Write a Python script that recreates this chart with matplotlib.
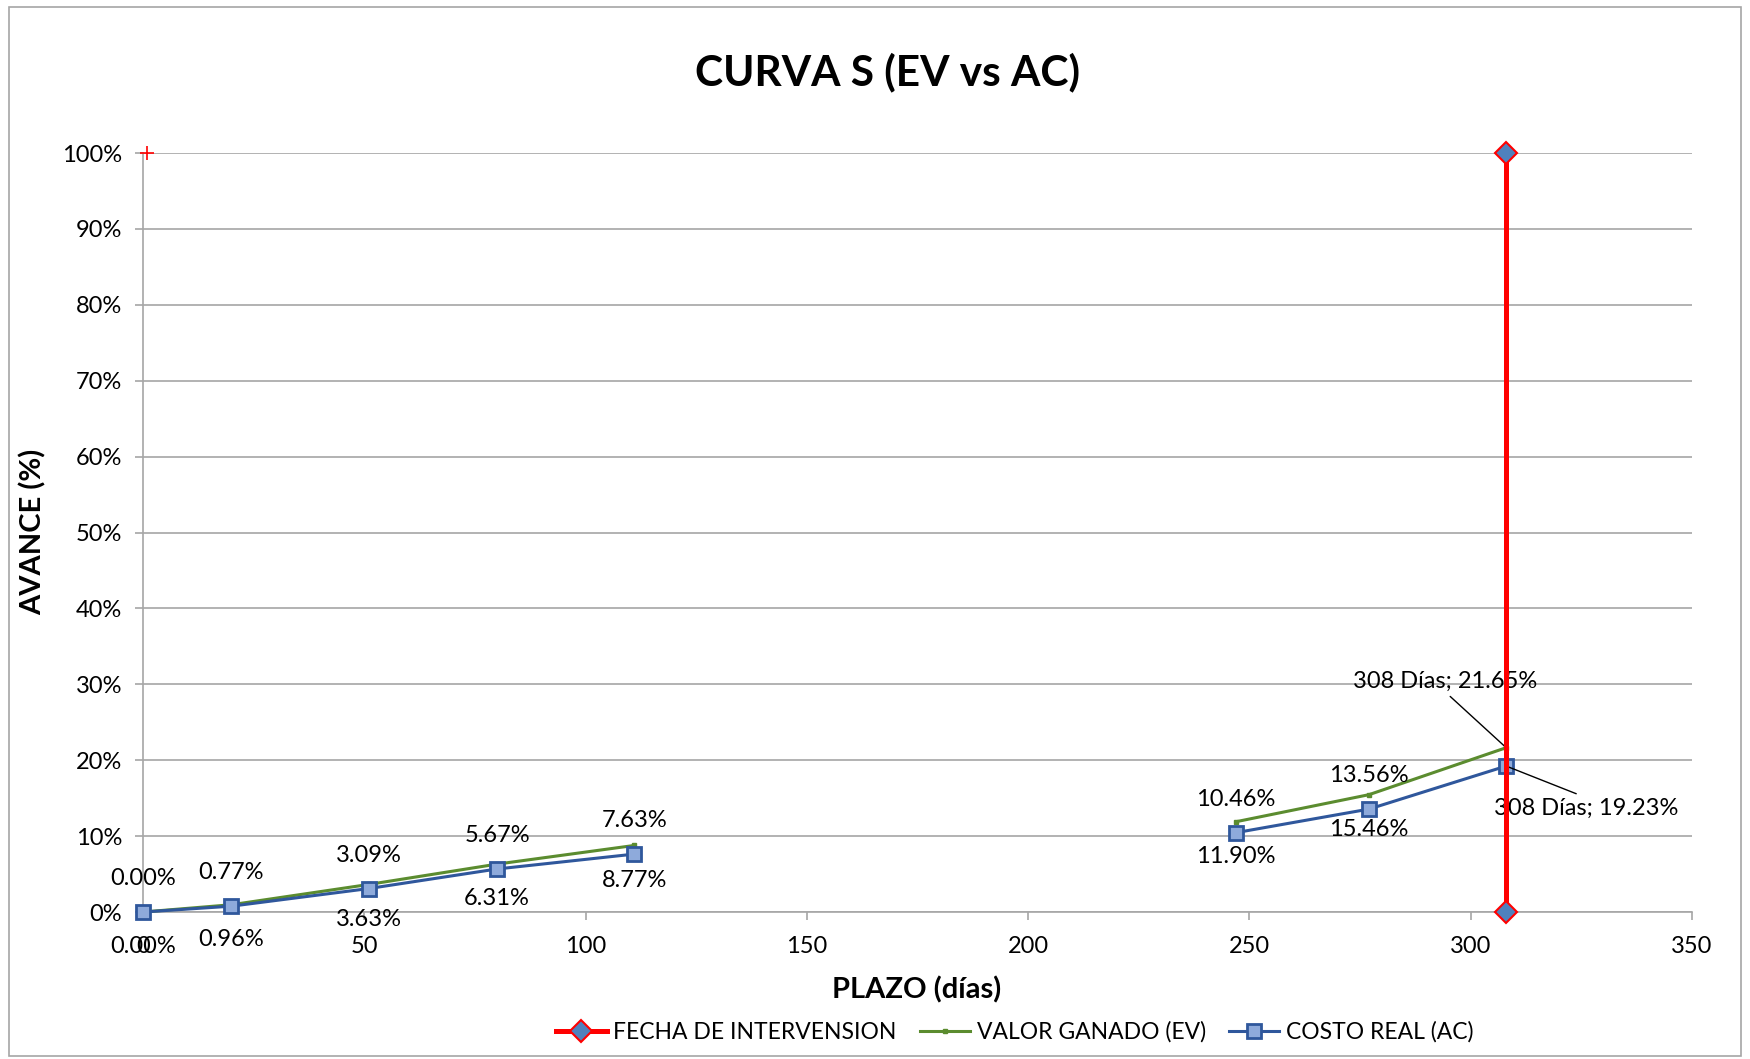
import numpy as np
import matplotlib
matplotlib.use('Agg')
import matplotlib.pyplot as plt
from matplotlib.patches import Rectangle
from matplotlib.ticker import PercentFormatter

plt.rcParams['font.family'] = ['Lato', 'DejaVu Sans']

# datos
dias = [0, 20, 51, 80, 111, 247, 277, 308]
ev = [0.0, 0.96, 3.63, 6.31, 8.77, 11.90, 15.46, 21.65]   # valor ganado (%)
ac = [0.0, 0.77, 3.09, 5.67, 7.63, 10.46, 13.56, 19.23]   # costo real (%)
corte = 5   # hueco entre 111 y 247 dias

fecha_x = [308, 308]
fecha_y = [0, 100]
marca_x = [1]
marca_y = [100]

gris = '#a6a6a6'
verde = '#5b8c2f'
azul = '#2f579c'
relleno = '#8eaadb'
rojo = '#ff0000'

fig = plt.figure(figsize=(17.5, 10.59), dpi=100)
ax = fig.add_axes([0.0817, 0.1388, 0.8852, 0.7167])

# borde del area del grafico
fig.patches.append(Rectangle((0.005, 0.003), 0.99, 0.99, transform=fig.transFigure,
                             fill=False, edgecolor=gris, linewidth=1.2))

ax.plot(fecha_x, fecha_y, color=rojo, lw=3.6, marker='D', ms=11,
        mfc='#4f81bd', mec=rojo, mew=1.5, label='FECHA DE INTERVENSION',
        zorder=4, clip_on=False)
ax.plot(marca_x, marca_y, ls='none', marker='+', ms=10, color=rojo, mew=1.2,
        zorder=5, clip_on=False)

ax.plot(dias[:corte], ev[:corte], color=verde, lw=2.2, marker='s', ms=3.5,
        mfc=verde, mec=verde, label='VALOR GANADO (EV)', zorder=3, clip_on=False)
ax.plot(dias[corte:], ev[corte:], color=verde, lw=2.2, marker='s', ms=3.5,
        mfc=verde, mec=verde, zorder=3, clip_on=False)
ax.plot(dias[:corte], ac[:corte], color=azul, lw=2.2, marker='s', ms=10,
        mfc=relleno, mec=azul, mew=2, label='COSTO REAL (AC)', zorder=3, clip_on=False)
ax.plot(dias[corte:], ac[corte:], color=azul, lw=2.2, marker='s', ms=10,
        mfc=relleno, mec=azul, mew=2, zorder=3, clip_on=False)

fs = 17
for i in range(len(dias) - 1):
    ax.annotate('%.2f%%' % ac[i], (dias[i], ac[i]), xytext=(0, 24),
                textcoords='offset points', ha='center', va='center', fontsize=fs)
    ax.annotate('%.2f%%' % ev[i], (dias[i], ev[i]), xytext=(0, -25),
                textcoords='offset points', ha='center', va='center', fontsize=fs)

ax.annotate('%d Días; %.2f%%' % (dias[-1], ev[-1]), (dias[-1], ev[-1]),
            xytext=(294.2, 30.4), ha='center', va='center', fontsize=fs,
            arrowprops=dict(arrowstyle='-', color='black', lw=1,
                            relpos=(0.5, 0.0), shrinkA=2, shrinkB=0))
ax.annotate('%d Días; %.2f%%' % (dias[-1], ac[-1]), (dias[-1], ac[-1]),
            xytext=(326.0, 13.7), ha='center', va='center', fontsize=fs,
            arrowprops=dict(arrowstyle='-', color='black', lw=1,
                            relpos=(0.5, 1.0), shrinkA=2, shrinkB=0))

ax.set_xlim(0, 350)
ax.set_ylim(0, 100)
ax.set_xticks(np.arange(0, 351, 50))
ax.set_yticks(np.arange(0, 101, 10))
ax.yaxis.set_major_formatter(PercentFormatter(decimals=0))
ax.grid(axis='y', color=gris, lw=1.2)
ax.set_axisbelow(True)
for s in ['top', 'right']:
    ax.spines[s].set_visible(False)
for s in ['left', 'bottom']:
    ax.spines[s].set_color(gris)
    ax.spines[s].set_linewidth(1.2)
ax.tick_params(axis='both', colors=gris, labelcolor='black', labelsize=fs,
               length=6, width=1.2, direction='out')
ax.tick_params(axis='y', pad=9)
ax.tick_params(axis='x', pad=11)

fig.text(0.507, 0.9315, 'CURVA S (EV vs AC)', ha='center', va='center',
         fontsize=30.5, fontweight='bold')
fig.text(0.524, 0.065, 'PLAZO (días)', ha='center', va='center',
         fontsize=21, fontweight='bold')
fig.text(0.019, 0.4976, 'AVANCE (%)', ha='center', va='center', rotation=90,
         fontsize=21, fontweight='bold')

fig.legend(loc='center', bbox_to_anchor=(0.58, 0.0255), ncol=3, frameon=False,
           fontsize=16.5, handlelength=2.2, columnspacing=1.0, handletextpad=0.3)

fig.savefig('out.png', dpi=100)
